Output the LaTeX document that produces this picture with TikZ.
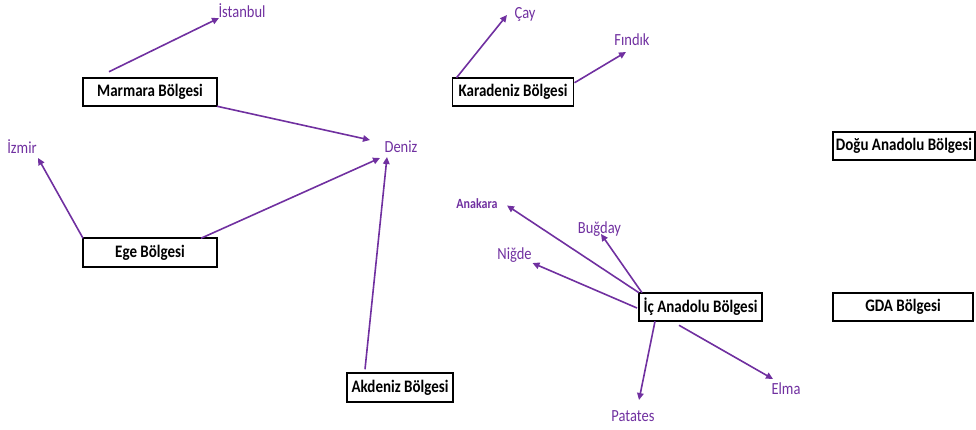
\documentclass[tikz,border=0pt]{standalone}
\usepackage{fontspec}
\usepackage{graphicx}
\setmainfont{Carlito}
\usetikzlibrary{arrows.meta,calc}
\definecolor{plum}{HTML}{7030A0}
% Calibri-like lettering, set a little taller than wide
\newcommand\tallword[1]{\scalebox{1}[1.17]{#1}}
\begin{document}
\begin{tikzpicture}[x=1pt,y=-1pt,
  region/.style={draw=black,line width=1.8pt,fill=white,inner sep=0pt,outer sep=0pt,
    minimum height=28.5pt,font=\fontsize{15}{18}\selectfont\bfseries},
  item/.style={text=plum,inner sep=0pt,font=\fontsize{14.5}{17}\selectfont},
  smallitem/.style={item,font=\fontsize{12}{14}\selectfont\bfseries},
  link/.style={draw=plum,line width=1.6pt,-{Triangle[length=7pt,width=6.5pt]}}]
\useasboundingbox (0,0) rectangle (976,429);

% regions
\node[region,minimum width=134pt] (mar) at (150,92) {\tallword{Marmara Bölgesi}};
\node[region,minimum width=121pt] (kar) at (513,92) {\tallword{Karadeniz Bölgesi}};
\node[region,minimum width=134pt] (ege) at (150,252.5) {\tallword{Ege Bölgesi}};
\node[region,minimum width=106pt] (akd) at (400,387.5) {\tallword{Akdeniz Bölgesi}};
\node[region,minimum width=123pt] (ic)  at (700.5,307) {\tallword{İç Anadolu Bölgesi}};
\node[region,minimum width=142pt] (dog) at (904,146) {\tallword{Doğu Anadolu Bölgesi}};
\node[region,minimum width=140pt] (gda) at (903,307) {\tallword{GDA Bölgesi}};

% items
\node[item] (ist) at (242,11) {\tallword{İstanbul}};
\node[item] (cay) at (525,14) {\tallword{Çay}};
\node[item] (fin) at (632,40) {\tallword{Fındık}};
\node[item] (izm) at (22,147) {\tallword{İzmir}};
\node[item] (den) at (401,147) {\tallword{Deniz}};
\node[smallitem] (ana) at (477,203.5) {\tallword{Anakara}};
\node[item] (bug) at (599.5,229) {\tallword{Buğday}};
\node[item] (nig) at (514.5,255) {\tallword{Niğde}};
\node[item] (pat) at (633,416) {\tallword{Patates}};
\node[item] (elm) at (786,389) {\tallword{Elma}};

% connectors
\draw[link] ($(mar.north west)+(26,-6)$) -- ($(ist)+(-23,7)$);
\draw[link] (mar.south east) -- ($(den)+(-31,-7)$);
\draw[link] ($(kar.north west)+(4,0)$) -- ($(cay)+(-18,1)$);
\draw[link] ($(kar.north east)+(1,5)$) -- ($(fin)+(-6,12)$);
\draw[link] (ege.north west) -- ($(izm)+(16,11)$);
\draw[link] ($(ege.north east)+(-16,0)$) -- ($(den)+(-21,11)$);
\draw[link] ($(akd.north west)+(18,-4)$) -- ($(den)+(-14,10)$);
\draw[link] (ic.north west) -- ($(ana)+(30,2)$);
\draw[link] ($(ic.north west)+(3,0)$) -- ($(bug)+(1.5,5)$);
\draw[link] ($(ic.west)+(-2,1)$) -- ($(nig)+(18,8)$);
\draw[link] ($(ic.south west)+(16,0)$) -- ($(pat)+(6,-16)$);
\draw[link] ($(ic.south west)+(40,4)$) -- ($(elm)+(-13,-10)$);
\end{tikzpicture}
\end{document}
